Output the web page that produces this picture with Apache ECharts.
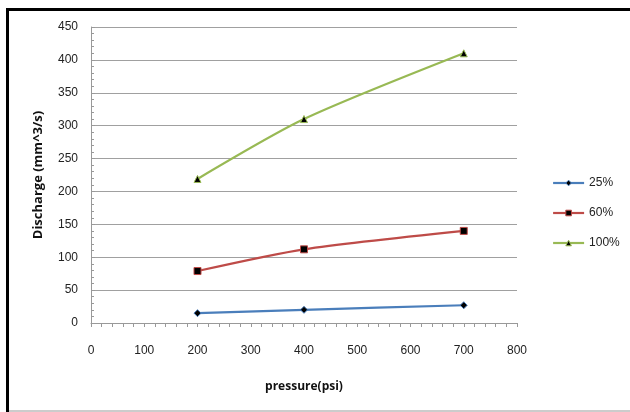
<!DOCTYPE html>
<html><head><meta charset="utf-8">
<script src="https://cdn.jsdelivr.net/npm/echarts@6/dist/echarts.min.js"></script>
<style>html,body{margin:0;padding:0;background:#fff}#c{width:630px;height:412px}</style>
</head><body><div id="c"></div>
<script>
const pressure = [200, 400, 700];
const s25 = [15, 20, 27];
const s60 = [79, 112, 140];
const s100 = [219, 310, 410];
const seriesNames = ['25%', '60%', '100%'];
const seriesColors = ['#4A7EBB', '#BE4B48', '#98B954'];
const xTicks = [0, 100, 200, 300, 400, 500, 600, 700, 800];
const yTicks = [0, 50, 100, 150, 200, 250, 300, 350, 400, 450];

const chart = echarts.init(document.getElementById('c'), null, {renderer: 'canvas'});
const font = 'Liberation Sans, Arial, sans-serif';
function pairs(v){ return pressure.map((p,i)=>[p,v[i]]); }
function mk(name, vals, color, symbol, size){
  return {name, type:'line', data:pairs(vals), smooth:0.25, symbol, symbolSize:size,
    lineStyle:{color, width:2.2}, itemStyle:{color:'#000', borderColor:color, borderWidth:1},
    emphasis:{disabled:true}};
}
chart.setOption({
  animation:false,
  textStyle:{fontFamily:font},
  grid:{left:91, right:113, top:27, bottom:89},
  legend:{orient:'vertical', left:552, top:177, padding:0, itemGap:18, itemWidth:31, itemHeight:7,
    textStyle:{fontSize:12, color:'#222', fontFamily:font}, selectedMode:false,
    data:seriesNames.map((n,i)=>({name:n, itemStyle:{color:'#000', borderColor:seriesColors[i], borderWidth:1},
      lineStyle:{color:seriesColors[i], width:2.2}}))},
  xAxis:{type:'value', min:xTicks[0], max:xTicks[xTicks.length-1], interval:100,
    name:'pressure(psi)', nameLocation:'middle', nameGap:58,
    nameTextStyle:{fontWeight:'bold', fontSize:12, color:'#111', fontFamily:'Open Sans'},
    axisLine:{show:true, lineStyle:{color:'#999'}},
    axisTick:{show:true, inside:false, length:4, lineStyle:{color:'#999'}},
    minorTick:{show:true, splitNumber:5, length:4, lineStyle:{color:'#999'}},
    axisLabel:{margin:22, fontSize:12, color:'#222'},
    splitLine:{show:false}},
  yAxis:{type:'value', min:yTicks[0], max:yTicks[yTicks.length-1], interval:50,
    name:'Discharge (mm^3/s)', nameLocation:'middle', nameGap:46, nameRotate:90,
    nameTextStyle:{fontWeight:'bold', fontSize:13, color:'#111', fontFamily:'Open Sans'},
    axisLine:{show:true, lineStyle:{color:'#999'}},
    axisTick:{show:true, inside:true, length:4, lineStyle:{color:'#999'}},
    minorTick:{show:true, splitNumber:5, length:3, lineStyle:{color:'#999'}},
    axisLabel:{margin:13, fontSize:12, color:'#222'},
    splitLine:{show:true, lineStyle:{color:'#a0a0a0', width:1}}},
  graphic:[
    {type:'rect', shape:{x:6, y:8, width:3, height:404}, style:{fill:'#000'}, silent:true},
    {type:'rect', shape:{x:6, y:8, width:624, height:3}, style:{fill:'#000'}, silent:true},
    {type:'rect', shape:{x:9, y:410, width:621, height:2}, style:{fill:'#ccc'}, silent:true}
  ],
  series:[
    mk(seriesNames[0], s25, seriesColors[0], 'diamond', 7),
    mk(seriesNames[1], s60, seriesColors[1], 'rect', 7),
    mk(seriesNames[2], s100, seriesColors[2], 'triangle', 7)
  ]
});
</script></body></html>
